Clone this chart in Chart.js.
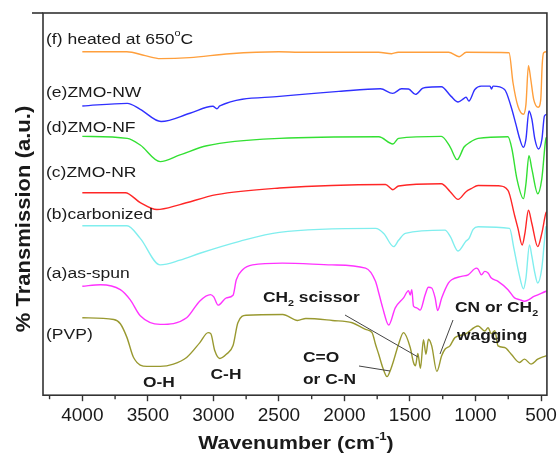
<!DOCTYPE html>
<html>
<head>
<meta charset="utf-8">
<script src="https://cdn.jsdelivr.net/npm/chart.js@4.4.0/dist/chart.umd.min.js"></script>
<style>
  body { margin: 0; background: #fff; }
  canvas { display: block; }
</style>
</head>
<body>
<canvas id="ftirChart" width="560" height="458"></canvas>
<script>
// x tick labels (cm-1)
const tickVals = [4000, 3500, 3000, 2500, 2000, 1500, 1000, 500];
const minorVals = [4250, 3750, 3250, 2750, 2250, 1750, 1250, 750];

// (f) heated at 650 C
const wnF = [4000, 3660, 3520, 3405, 3180, 2875, 2500, 2345, 1740, 1640, 1590, 1205, 1125, 1070, 744, 714, 676, 634, 615, 596, 578, 556, 521, 502, 491, 480, 457];
const tF = [346, 346, 342, 339, 340, 344, 346, 345.5, 345.5, 344, 345.5, 345.5, 341, 345.5, 345, 315, 291, 283, 293, 332, 318, 298, 290, 298, 333, 345, 346];

// (e) ZMO-NW
const wnE = [4000, 3657, 3558, 3399, 3179, 3004, 2973, 2951, 2496, 2042, 1725, 1632, 1564, 1511, 1458, 1405, 1382, 1261, 1186, 1133, 1087, 1072, 1051, 1005, 957, 889, 878, 866, 778, 730, 692, 662, 635, 615, 592, 570, 547, 519, 493, 474, 456];
const tE = [291.3, 294, 288, 275.7, 284, 291, 288.5, 291.5, 301, 306, 308.7, 304, 308.7, 308.5, 303, 309, 310, 310.7, 301, 295.3, 299, 300.3, 296.3, 308, 311.3, 311.3, 308.5, 311.3, 308, 291.3, 273, 258, 249.7, 258, 286.3, 278, 258, 248, 258, 281.3, 283];

// (d) ZMO-NF
const wnD = [4000, 3657, 3558, 3406, 3255, 3050, 2496, 1738, 1630, 1587, 1261, 1193, 1140, 1087, 1043, 980, 752, 722, 684, 634, 615, 592, 570, 525, 494, 464, 457];
const tD = [260.7, 258.7, 252, 235.3, 242, 251.3, 258.7, 260.3, 253, 258.7, 260.7, 250, 237.3, 250, 254.7, 258.7, 260.3, 248, 218, 198, 213, 241.3, 228, 203, 218, 258, 260];

// (c) ZMO-NR
const wnC = [4000, 3672, 3558, 3431, 3255, 2976, 2496, 1687, 1630, 1587, 1261, 1193, 1133, 1072, 1033, 980, 828, 752, 702, 676, 644, 623, 596, 570, 525, 494, 464, 457];
const tC = [204, 204, 194, 187, 192, 202, 208.7, 212.3, 207, 210.7, 213, 205, 197.3, 205, 208, 211.3, 211, 206.3, 181.3, 168, 151.3, 163, 186.3, 173, 149.7, 163, 183, 185];

// (b) carbonized
const wnB = [4000, 3659, 3558, 3406, 3255, 3103, 2800, 2496, 1763, 1700, 1625, 1587, 1536, 1233, 1193, 1133, 1072, 1049, 1018, 980, 740, 707, 669, 634, 615, 588, 570, 547, 525, 494, 472, 462, 457];
const tB = [170.7, 170.7, 158, 131.3, 136, 143, 155, 164, 168, 163, 149.7, 156, 163, 166.3, 160, 145.3, 155.3, 158, 167, 169.7, 168, 148, 123, 107.3, 118, 151.3, 140, 123, 113, 128, 158, 169.7, 170];

// (a) as-spun
const wnA = [4000, 3861, 3710, 3634, 3558, 3406, 3204, 3103, 3022, 2997, 2964, 2901, 2850, 2825, 2777, 2701, 2474, 2095, 1839, 1763, 1738, 1708, 1662, 1612, 1549, 1511, 1498, 1486, 1473, 1448, 1422, 1384, 1359, 1334, 1308, 1289, 1258, 1207, 1182, 1107, 1056, 993, 980, 955, 929, 904, 879, 828, 752, 702, 664, 626, 550, 462, 457];
const tA = [109.7, 111.3, 106.3, 96, 80, 71.3, 78, 95, 101.3, 99, 90.7, 98, 100.7, 116.3, 126.3, 131.3, 133, 131.3, 128, 114.7, 103, 88, 70.7, 88, 98, 105.3, 101, 106.3, 89.7, 88, 85.7, 101.3, 108.7, 108, 98, 85.3, 98, 113, 116.3, 119.7, 121.3, 128, 127, 121.3, 124.7, 123, 118, 114.7, 106.3, 98, 96.3, 94.7, 99.7, 104.7, 105];

// (PVP)
const wnP = [4000, 3760, 3710, 3659, 3609, 3507, 3406, 3305, 3204, 3103, 3040, 3020, 2989, 2951, 2901, 2850, 2813, 2749, 2471, 2358, 2294, 2092, 1941, 1839, 1789, 1763, 1738, 1708, 1675, 1647, 1625, 1587, 1549, 1498, 1473, 1458, 1440, 1420, 1397, 1378, 1359, 1334, 1295, 1258, 1233, 1195, 1157, 1081, 980, 929, 904, 879, 853, 828, 778, 727, 664, 626, 576, 525, 462, 457];
const tP = [78, 76.3, 72, 58, 38, 29, 29, 31.3, 38, 53, 63, 62, 44.7, 37, 41.3, 50, 73, 80.5, 81.3, 75.3, 77.3, 75.3, 73, 66.3, 63, 51.3, 41, 28, 18.7, 26, 34.7, 51.3, 63, 48, 33, 29.7, 42, 27, 56, 41.3, 56.3, 49.7, 24, 39.7, 46.3, 49.7, 58, 61.3, 69.7, 64.7, 68, 62, 65, 49.7, 48, 41.3, 33, 36.3, 31.3, 36.3, 39.7, 40];

const seriesNames = ["(f) heated at 650°C", "(e)ZMO-NW", "(d)ZMO-NF", "(c)ZMO-NR", "(b)carbonized", "(a)as-spun", "(PVP)"];
const seriesColors = ["#ff9f3c", "#3030ff", "#33e033", "#ff2626", "#80eeee", "#ff33ff", "#999930"];
const seriesX = [wnF, wnE, wnD, wnC, wnB, wnA, wnP];
const seriesY = [tF, tE, tD, tC, tB, tA, tP];

const FAM = '"Liberation Sans", Arial, sans-serif';
const INK = "#1a1a1a";

function drawParts(ctx, parts, x, y, size, bold, sx, align) {
  const fontFor = (sz) => (bold ? "bold " : "") + sz + "px " + FAM;
  let total = 0;
  parts.forEach((p) => {
    ctx.font = fontFor(p[1] ? size * 0.62 : size);
    total += ctx.measureText(p[0]).width;
  });
  ctx.save();
  ctx.translate(x, y);
  ctx.scale(sx, 1);
  ctx.textBaseline = "middle";
  ctx.textAlign = "left";
  ctx.fillStyle = INK;
  let cx = align === "center" ? -total / 2 : 0;
  parts.forEach((p) => {
    const sz = p[1] ? size * 0.62 : size;
    ctx.font = fontFor(sz);
    const dy = p[1] === "sub" ? size * 0.32 : p[1] === "sup" ? -size * 0.38 : 0;
    ctx.fillText(p[0], cx, dy);
    cx += ctx.measureText(p[0]).width;
  });
  ctx.restore();
}

const decor = {
  id: "decor",
  afterDraw(chart) {
    const ctx = chart.ctx;
    const a = chart.chartArea;
    const xs = chart.scales.x;

    // frame
    ctx.save();
    ctx.strokeStyle = "#333";
    ctx.lineWidth = 1.6;
    ctx.strokeRect(a.left, a.top, a.right - a.left, a.bottom - a.top);
    ctx.beginPath();
    ctx.moveTo(32, a.top);
    ctx.lineTo(a.left, a.top);
    ctx.stroke();
    // minor ticks
    ctx.lineWidth = 1.4;
    minorVals.forEach((v) => {
      const px = xs.getPixelForValue(v);
      ctx.beginPath();
      ctx.moveTo(px, a.bottom);
      ctx.lineTo(px, a.bottom + 4);
      ctx.stroke();
    });
    // leader lines
    ctx.strokeStyle = "#444";
    ctx.lineWidth = 1;
    [[345, 315, 418, 357], [359, 366, 390, 371], [453, 320, 440, 354]].forEach((l) => {
      ctx.beginPath();
      ctx.moveTo(l[0], l[1]);
      ctx.lineTo(l[2], l[3]);
      ctx.stroke();
    });
    ctx.restore();

    // series labels
    const labelY = [39.5, 93, 128, 173, 215, 274, 335];
    seriesNames.forEach((name, i) => {
      if (i === 0) {
        drawParts(ctx, [["(f) heated at 650", ""], ["o", "sup"], ["C", ""]], 46, labelY[i], 15.5, false, 1.13, "left");
      } else {
        drawParts(ctx, [[name, ""]], 46, labelY[i], 15.5, false, 1.13, "left");
      }
    });

    // band assignments
    drawParts(ctx, [["O-H", ""]], 159, 383, 15.5, true, 1.12, "center");
    drawParts(ctx, [["C-H", ""]], 226, 375, 15.5, true, 1.12, "center");
    drawParts(ctx, [["CH", ""], ["2", "sub"], [" scissor", ""]], 263, 298, 15.5, true, 1.12, "left");
    drawParts(ctx, [["C=O", ""]], 303, 358, 15.5, true, 1.12, "left");
    drawParts(ctx, [["or C-N", ""]], 303, 380, 15.5, true, 1.12, "left");
    drawParts(ctx, [["CN or CH", ""], ["2", "sub"]], 455, 308, 15.5, true, 1.12, "left");
    drawParts(ctx, [["wagging", ""]], 457, 336, 15.5, true, 1.12, "left");

    // axis titles
    drawParts(ctx, [["Wavenumber (cm", ""], ["-1", "sup"], [")", ""]], 296, 444, 19, true, 1.12, "center");
    ctx.save();
    ctx.translate(24, 219);
    ctx.rotate(-Math.PI / 2);
    drawParts(ctx, [["% Transmission (a.u.)", ""]], 0, 0, 20.5, true, 1.075, "center");
    ctx.restore();
  },
};

const datasets = seriesNames.map((name, i) => ({
  label: name,
  data: seriesX[i].map((wn, j) => ({ x: wn, y: seriesY[i][j] })),
  borderColor: seriesColors[i],
  borderWidth: 1.4,
  pointRadius: 0,
  fill: false,
  cubicInterpolationMode: "monotone",
}));

new Chart(document.getElementById("ftirChart").getContext("2d"), {
  type: "line",
  data: { datasets: datasets },
  options: {
    responsive: false,
    animation: false,
    layout: { padding: { left: 43, right: 11, top: 13, bottom: 28 } },
    plugins: { legend: { display: false }, tooltip: { enabled: false } },
    scales: {
      x: {
        type: "linear",
        reverse: true,
        min: 455,
        max: 4300,
        afterBuildTicks: (s) => {
          s.ticks = tickVals.map((v) => ({ value: v }));
        },
        grid: {
          display: true,
          drawOnChartArea: false,
          drawTicks: true,
          tickLength: 6,
          tickColor: "#333",
          tickWidth: 1.4,
        },
        border: { display: false },
        ticks: {
          color: INK,
          font: { family: FAM, size: 19 },
          padding: 3,
          maxRotation: 0,
          autoSkip: false,
          callback: (v) => String(v),
        },
      },
      y: {
        display: false,
        min: 0,
        max: 385,
      },
    },
  },
  plugins: [decor],
});
</script>
</body>
</html>
